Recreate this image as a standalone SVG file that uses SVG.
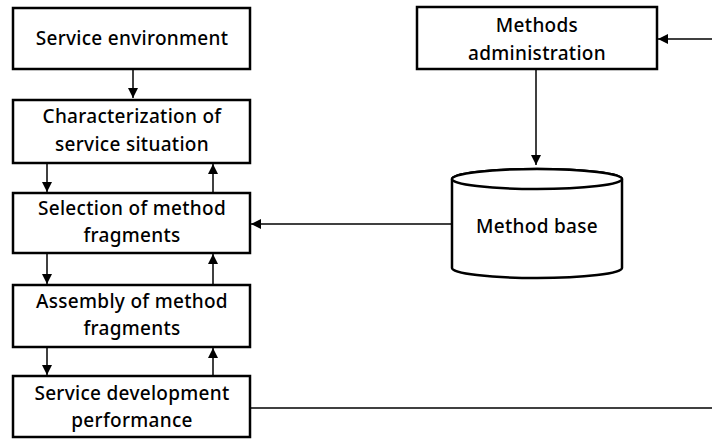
<svg xmlns="http://www.w3.org/2000/svg" width="712" height="439" viewBox="0 0 712 439">
<style>
.box{fill:#fff;stroke:#000;stroke-width:2.5}
.t{font-family:"Noto Sans","Open Sans",sans-serif;font-size:19px;font-weight:500;letter-spacing:0.3px;text-anchor:middle;fill:#000;font-variant-ligatures:none}
.c{stroke:#000;stroke-width:1.5;fill:none}
</style>
<defs>
<marker id="ah" viewBox="0 0 10 10" refX="10" refY="5" markerWidth="10" markerHeight="10" markerUnits="userSpaceOnUse" orient="auto">
<path d="M0,0 L10,5 L0,10 z" fill="#000"/>
</marker>
</defs>
<rect width="712" height="439" fill="#fff"/>
<g id="connectors">
<line class="c" x1="133" y1="69" x2="133" y2="98" marker-end="url(#ah)"/>
<line class="c" x1="47" y1="163" x2="47" y2="192" marker-end="url(#ah)"/>
<line class="c" x1="213" y1="193" x2="213" y2="164" marker-end="url(#ah)"/>
<line class="c" x1="47" y1="253" x2="47" y2="284" marker-end="url(#ah)"/>
<line class="c" x1="213" y1="285" x2="213" y2="254" marker-end="url(#ah)"/>
<line class="c" x1="47" y1="347" x2="47" y2="375" marker-end="url(#ah)"/>
<line class="c" x1="213" y1="376" x2="213" y2="348" marker-end="url(#ah)"/>
<line class="c" x1="712" y1="39" x2="658" y2="39" marker-end="url(#ah)"/>
<line class="c" x1="536" y1="69" x2="536" y2="165" marker-end="url(#ah)"/>
<line class="c" x1="452" y1="224" x2="251" y2="224" marker-end="url(#ah)"/>
<line class="c" x1="250" y1="408" x2="712" y2="408"/>
</g>
<g id="service-environment">
<rect class="box" x="13" y="8" width="237" height="61"/>
<text class="t" x="132" y="45">Service environment</text>
</g>
<g id="characterization">
<rect class="box" x="13" y="100" width="237" height="63"/>
<text class="t" x="132" y="123">Characterization of</text>
<text class="t" x="132" y="151">service situation</text>
</g>
<g id="selection">
<rect class="box" x="13" y="193" width="237" height="60"/>
<text class="t" x="132" y="215">Selection of method</text>
<text class="t" x="132" y="242">fragments</text>
</g>
<g id="assembly">
<rect class="box" x="13" y="285" width="237" height="62"/>
<text class="t" x="132" y="308">Assembly of method</text>
<text class="t" x="132" y="335">fragments</text>
</g>
<g id="performance">
<rect class="box" x="13" y="376" width="237" height="61"/>
<text class="t" x="132" y="400">Service development</text>
<text class="t" x="132" y="427">performance</text>
</g>
<g id="methods-administration">
<rect class="box" x="417" y="7" width="240" height="62"/>
<text class="t" x="537" y="32">Methods</text>
<text class="t" x="537" y="60">administration</text>
</g>
<g id="method-base">
<path class="box" d="M452,179 L452,268 A85,10 0 0 0 622,268 L622,179 A85,10 0 0 0 452,179 Z"/>
<ellipse class="box" cx="537" cy="179" rx="85" ry="10"/>
<text class="t" x="537" y="233">Method base</text>
</g>
</svg>
